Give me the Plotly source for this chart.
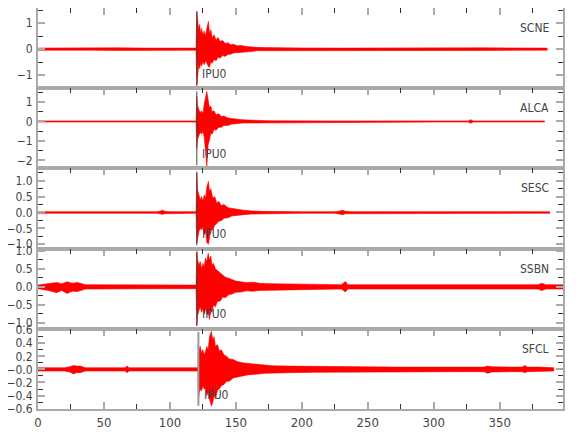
import plotly.graph_objects as go
from plotly.subplots import make_subplots

stations = ["SCNE", "ALCA", "SESC", "SSBN", "SFCL"]
pick_times = [120.4, 120.4, 120.4, 120.4, 121.6]
pick_label = "IPU0"

# Envelope readings (time s, upper amplitude, lower amplitude) for each trace
scne_t = [0, 20, 40, 60, 80, 100, 119.8, 120.4, 121, 121.8, 122.5, 123.3, 124, 125, 126, 127, 128, 129.2, 130, 131, 132, 133.5, 135, 136.5, 138, 140, 142, 144, 146, 148, 151, 154, 158, 162, 166, 172, 180, 200, 230, 260, 300, 340, 386]
scne_up = [.04, .05, .04, .05, .04, .05, .04, 1.45, 1.0, .75, .95, .6, .8, .55, .7, .5, .8, 1.07, .6, .75, .45, .55, .35, .45, .3, .33, .22, .25, .17, .19, .13, .14, .1, .08, .07, .06, .05, .045, .04, .05, .05, .05, .04]
scne_lo = [-.04, -.05, -.04, -.05, -.04, -.05, -.04, -1.42, -1.1, -.6, -.75, -.55, -.65, -.5, -.6, -.45, -.55, -.67, -.7, -.5, -.55, -.4, -.45, -.3, -.35, -.25, -.28, -.2, -.2, -.15, -.15, -.11, -.11, -.09, -.06, -.06, -.05, -.045, -.04, -.05, -.05, -.05, -.04]

alca_t = [0, 30, 60, 90, 119.8, 120.4, 121, 122, 123, 124, 125, 126, 127, 128, 129, 130, 131, 132, 133.5, 135, 137, 139, 141, 144, 147, 150, 155, 160, 166, 175, 220, 260, 300, 326, 328, 330, 360, 384]
alca_up = [.03, .03, .04, .03, .03, 1.29, .8, .6, .45, .55, .4, .9, 1.2, 1.54, 1.1, .7, .8, .5, .55, .35, .4, .25, .28, .18, .15, .12, .09, .07, .05, .04, .03, .04, .03, .03, .09, .03, .03, .03]
alca_lo = [-.03, -.03, -.04, -.03, -.03, -1.39, -.9, -.7, -.55, -.65, -.5, -.8, -1.5, -2.3, -1.2, -.95, -.6, -.65, -.4, -.45, -.3, -.3, -.2, -.2, -.13, -.12, -.08, -.07, -.05, -.04, -.03, -.04, -.03, -.03, -.09, -.03, -.03, -.03]

sesc_t = [0, 30, 60, 90, 93, 94.5, 96, 100, 119.8, 120.4, 121, 122, 123, 124, 125, 126, 127, 128, 129.2, 130, 131, 132.5, 134, 135.5, 137, 139, 141, 144, 147, 151, 156, 162, 170, 200, 225, 229, 231, 233, 238, 260, 300, 340, 388]
sesc_up = [.025, .025, .025, .025, .05, .07, .04, .025, .025, 1.24, .7, .5, .4, .5, .35, .55, .45, .8, .98, .65, .75, .45, .5, .3, .35, .22, .25, .15, .13, .09, .07, .05, .035, .025, .025, .05, .07, .04, .025, .025, .025, .025, .025]
sesc_lo = [-.025, -.025, -.025, -.025, -.05, -.06, -.04, -.025, -.025, -.97, -.8, -.6, -.5, -.55, -.45, -.7, -.6, -.95, -1.0, -.8, -.55, -.55, -.4, -.35, -.28, -.26, -.18, -.17, -.11, -.1, -.07, -.05, -.035, -.025, -.025, -.05, -.07, -.04, -.025, -.025, -.025, -.025, -.025]

ssbn_t = [0, 8, 14, 18, 22, 26, 30, 36, 40, 60, 80, 100, 119.8, 120.4, 121, 122, 123, 124, 125, 126, 127, 128, 129, 130, 131, 132, 133, 134.5, 136, 138, 140, 142, 144.5, 147, 150, 154, 158, 163, 168, 175, 190, 210, 230, 233, 235, 240, 270, 300, 330, 360, 379, 382, 385, 398]
ssbn_up = [.05, .08, .12, .09, .14, .1, .12, .06, .06, .05, .06, .05, .05, .98, .75, .6, .7, .5, .65, .55, .8, .7, .93, .75, .85, .6, .65, .5, .45, .38, .32, .27, .24, .2, .16, .14, .12, .13, .1, .09, .08, .07, .06, .15, .06, .06, .06, .06, .06, .06, .06, .1, .06, .06]
ssbn_lo = [-.05, -.1, -.16, -.1, -.18, -.12, -.13, -.06, -.06, -.05, -.06, -.05, -.05, -1.08, -.8, -.65, -.55, -.7, -.6, -.75, -.6, -.78, -.7, -.9, -.65, -.7, -.5, -.55, -.4, -.4, -.28, -.3, -.22, -.2, -.15, -.14, -.11, -.12, -.1, -.09, -.08, -.07, -.06, -.14, -.06, -.06, -.06, -.06, -.06, -.06, -.06, -.1, -.06, -.06]

sfcl_t = [0, 10, 20, 24, 27, 29, 32, 36, 45, 60, 66, 67.5, 69, 75, 90, 110, 121.3, 121.6, 122.3, 123, 124, 125, 126, 127, 128, 129, 130, 131.4, 132.5, 133.5, 134.5, 136, 137.5, 139, 141, 143, 145, 148, 151, 155, 160, 165, 172, 178, 190, 210, 240, 270, 300, 320, 338, 341, 344, 360, 367, 369, 371, 380, 391]
sfcl_up = [.025, .025, .025, .04, .06, .05, .05, .025, .025, .025, .025, .05, .025, .025, .025, .025, .025, .38, .3, .35, .25, .3, .22, .28, .35, .3, .5, .58, .45, .5, .35, .38, .28, .3, .22, .2, .16, .15, .12, .1, .09, .075, .065, .055, .05, .045, .035, .035, .035, .035, .035, .05, .04, .035, .035, .06, .035, .035, .025]
sfcl_lo = [-.025, -.025, -.025, -.04, -.07, -.05, -.05, -.025, -.025, -.025, -.025, -.05, -.025, -.025, -.025, -.025, -.025, -.48, -.35, -.3, -.33, -.25, -.3, -.3, -.4, -.35, -.45, -.56, -.5, -.4, -.45, -.32, -.3, -.25, -.23, -.18, -.18, -.13, -.12, -.1, -.08, -.075, -.06, -.055, -.05, -.045, -.035, -.035, -.035, -.035, -.035, -.06, -.04, -.035, -.035, -.05, -.035, -.035, -.025]

times = [scne_t, alca_t, sesc_t, ssbn_t, sfcl_t]
uppers = [scne_up, alca_up, sesc_up, ssbn_up, sfcl_up]
lowers = [scne_lo, alca_lo, sesc_lo, ssbn_lo, sfcl_lo]

y_ranges = [[-1.51, 1.59], [-2.41, 1.71], [-1.14, 1.39], [-1.16, 1.06], [-0.605, 0.62]]
y_dticks = [1, 1, 0.5, 0.5, 0.2]
y_minor = [0.5, 0.5, 0.25, 0.25, 0.1]
y_formats = ["d", "d", ".1f", ".1f", ".1f"]
sfcl_tickvals = [-0.6, -0.4, -0.2, 0.0, 0.2, 0.4, 0.6]
sfcl_ticktext = ["\u22120.6", "\u22120.4", "\u22120.2", "\u22120.0", "0.2", "0.4", "0.6"]

x_range = [0, 398]
x_tickvals = [0, 50, 100, 150, 200, 250, 300, 350]

FONT = "Liberation Sans Narrow, DejaVu Sans Condensed, Liberation Sans, sans-serif"
TXT = "#444444"

fig = make_subplots(rows=5, cols=1, shared_xaxes=True, vertical_spacing=0)

for i in range(5):
    t, up, lo = times[i], uppers[i], lowers[i]
    fig.add_trace(go.Scatter(
        x=t + t[::-1], y=up + lo[::-1], mode="lines", fill="toself",
        fillcolor="red", line=dict(color="red", width=0.6),
        hoverinfo="skip", showlegend=False), row=i + 1, col=1)

    n = "" if i == 0 else str(i + 1)
    fig.add_shape(type="line", xref="x" + n, yref="y" + n + " domain",
                  x0=pick_times[i], x1=pick_times[i], y0=0.04, y1=0.96,
                  line=dict(color="#999999" if i == 4 else "#444444", width=2 if i == 4 else 1))
    fig.add_annotation(xref="x" + n, yref="y" + n + " domain",
                       x=pick_times[i] + 2.5, y=0.18, text=pick_label, showarrow=False,
                       xanchor="left", yanchor="middle", font=dict(family=FONT, size=12, color=TXT))
    fig.add_annotation(xref="x" + n, yref="y" + n + " domain",
                       x=389, y=0.75, text=stations[i], showarrow=False,
                       xanchor="right", yanchor="middle", font=dict(family=FONT, size=12, color=TXT))

    yax = dict(range=y_ranges[i], dtick=y_dticks[i], tick0=0, tickformat=y_formats[i],
               ticks="inside", ticklen=7, tickwidth=2, tickcolor="#aaaaaa",
               minor=dict(dtick=y_minor[i], tick0=0, ticks="inside", ticklen=5, tickwidth=1, tickcolor="#333333"),
               showline=True, linecolor="#aaaaaa", linewidth=2, mirror="ticks",
               showgrid=False, zeroline=False, automargin=False, ticklabelstandoff=1,
               tickfont=dict(family=FONT, size=12, color=TXT))
    if i == 4:
        yax.update(tickmode="array", tickvals=sfcl_tickvals, ticktext=sfcl_ticktext)
        yax.pop("dtick"); yax.pop("tick0"); yax.pop("tickformat")
    fig.update_yaxes(row=i + 1, col=1, **yax)

    xax = dict(range=x_range, ticks="inside", ticklen=7, tickwidth=2, tickcolor="#aaaaaa",
               tickvals=x_tickvals,
               minor=dict(dtick=25, tick0=0, ticks="inside", ticklen=5, tickwidth=1, tickcolor="#333333"),
               showline=True, linecolor="#aaaaaa", linewidth=2,
               showgrid=False, zeroline=False, automargin=False,
               tickfont=dict(family=FONT, size=13, color=TXT))
    if i < 4:
        xax.update(side="top", showticklabels=False, mirror=True)
    else:
        xax.update(side="bottom", showticklabels=True, mirror="ticks")
    fig.update_xaxes(row=i + 1, col=1, **xax)

fig.update_layout(width=580, height=440, margin=dict(l=30, r=25, t=0, b=39),
                  paper_bgcolor="white", plot_bgcolor="white", showlegend=False,
                  font=dict(family=FONT, color=TXT))

fig.write_html("out.html")
